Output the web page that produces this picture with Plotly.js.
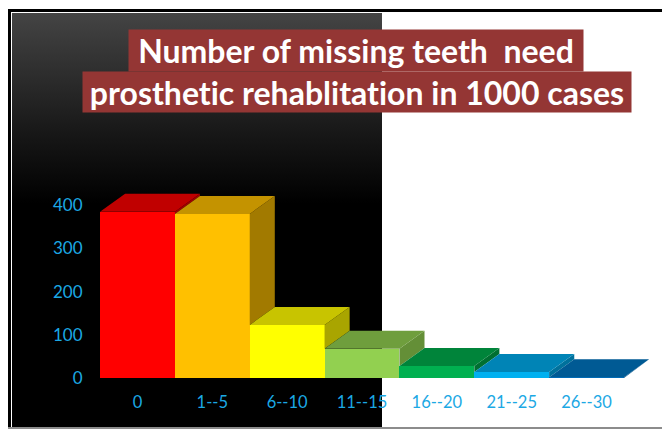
<!DOCTYPE html>
<html>
<head>
<meta charset="utf-8">
<script src="https://cdn.plot.ly/plotly-3.0.1.min.js"></script>
<style>
  html, body { margin: 0; padding: 0; background: #fff; }
  #frame { position: relative; width: 662px; height: 430px; overflow: hidden; background: #fff; }
  /* dark left-hand panel and the black rules around the slide */
  #panel { position: absolute; left: 12px; top: 13px; width: 370px; height: 414px;
           background: linear-gradient(to bottom, #444 0%, #161616 30%, #000 46%, #000 100%); }
  #ruleTop { position: absolute; left: 8px; top: 9px; width: 654px; height: 3px; background: #000; }
  #ruleLeft { position: absolute; left: 8px; top: 9px; width: 3px; height: 419px; background: #000; }
  #ruleBottom { position: absolute; left: 8px; top: 427px; width: 654px; height: 2px; background: #8c8c8c; }
  #chart { position: absolute; left: 0; top: 0; width: 662px; height: 430px; }
  #chart svg text { font-variant-ligatures: none !important; font-feature-settings: "liga" 0, "clig" 0, "dlig" 0 !important; }
</style>
</head>
<body>
<div id="frame">
  <div id="panel"></div>
  <div id="ruleTop"></div>
  <div id="ruleLeft"></div>
  <div id="ruleBottom"></div>
  <div id="chart"></div>
</div>
<script>
// Missing-teeth groups and the number of cases in each
const categories = ['0', '1--5', '6--10', '11--15', '16--20', '21--25', '26--30'];
const cases = [385, 380, 123, 68, 28, 14, 2];
const yTicks = [0, 100, 200, 300, 400];

const frontColors = ['#ff0000', '#ffc000', '#ffff00', '#92d050', '#00b050', '#00b0f0', '#0070c0'];
const topColors = ['#c00000', '#c49300', '#c8c400', '#6f9e3d', '#00843a', '#0084b6', '#005a94'];
const sideColors = ['#a00000', '#a27a00', '#a9a500', '#648f37', '#006f31', '#00719c', '#004d80'];

// Pseudo-3D extrusion, expressed in axis units
const depthX = 0.335;
const depthY = 41.5;

const W = 662, H = 430;
const margin = { l: 100, r: 10, t: 187.5, b: 52 };
const indices = categories.map((_, i) => i);

function polygon(xs, ys, color) {
  return {
    type: 'scatter', mode: 'lines', x: xs, y: ys, fill: 'toself', fillcolor: color,
    line: { width: 0, color: color }, hoverinfo: 'skip', showlegend: false
  };
}

const traces = [{
  type: 'bar', x: indices, y: cases, width: 1,
  marker: { color: frontColors, line: { width: 0 } },
  hovertemplate: '%{text}: %{y}<extra></extra>', text: categories, textposition: 'none',
  showlegend: false
}];

// Side faces and top faces, left to right so that each bar overlaps the previous one
cases.forEach((v, i) => {
  const next = i + 1 < cases.length ? cases[i + 1] : 0;
  const r = i + 0.5, l = i - 0.5;
  traces.push(polygon(
    [r, r + depthX, r + depthX, r, r],
    [v, v + depthY, next + depthY, next, v],
    sideColors[i]));
  traces.push(polygon(
    [l, r, r + depthX, l + depthX, l],
    [v, v, v + depthY, v + depthY, v],
    topColors[i]));
});

const px = x => (x - margin.l) / (W - margin.l - margin.r);
const py = y => (H - margin.b - y) / (H - margin.t - margin.b);

function titleLine(text, left, right, top, bottom) {
  return {
    text: text, showarrow: false, xref: 'paper', yref: 'paper',
    x: px((left + right) / 2), y: py((top + bottom) / 2),
    xanchor: 'center', yanchor: 'middle', width: right - left, height: bottom - top,
    bgcolor: '#943634', borderpad: 0, align: 'center', valign: 'middle',
    font: { family: 'Lato, sans-serif', size: 32, color: '#ffffff', weight: 700 }
  };
}

const xTickFont = { family: 'Lato, sans-serif', size: 16.5, color: '#1ba8e4' };
const yTickFont = { family: 'Lato, sans-serif', size: 17, color: '#1ba8e4' };

const layout = {
  width: W, height: H, margin: margin,
  paper_bgcolor: 'rgba(0,0,0,0)', plot_bgcolor: 'rgba(0,0,0,0)',
  showlegend: false, bargap: 0,
  xaxis: {
    range: [-0.5, 6.874], tickmode: 'array', tickvals: indices, ticktext: categories,
    ticks: 'outside', ticklen: 9, tickcolor: 'rgba(0,0,0,0)', tickfont: xTickFont,
    showgrid: false, zeroline: false, showline: false, fixedrange: true
  },
  yaxis: {
    range: [0, 440], tickmode: 'array', tickvals: yTicks,
    ticks: 'outside', ticklen: 13, tickcolor: 'rgba(0,0,0,0)', tickfont: yTickFont,
    showgrid: false, zeroline: false, showline: false, fixedrange: true
  },
  annotations: [
    titleLine('Number of missing teeth\u00a0 need', 129, 583, 29, 70),
    titleLine('prosthetic rehablitation in 1000 cases', 83, 631, 71, 111)
  ]
};

Plotly.newPlot('chart', traces, layout, { displayModeBar: false, staticPlot: true });
</script>
</body>
</html>
